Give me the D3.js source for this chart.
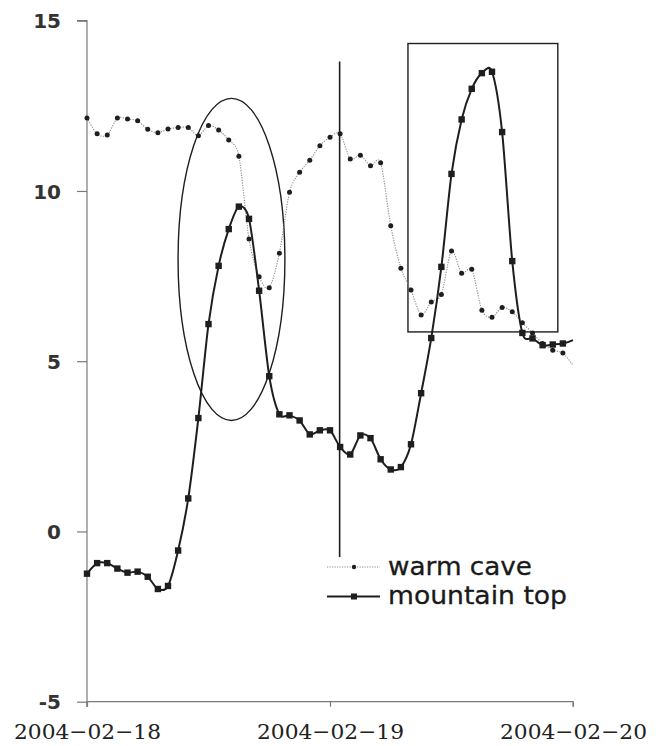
<!DOCTYPE html>
<html>
<head>
<meta charset="utf-8">
<script src="https://cdn.jsdelivr.net/npm/d3@7"></script>
<style>
  html, body { margin: 0; padding: 0; background: #fff; }
  svg { display: block; }
</style>
</head>
<body>
<svg id="chart" width="662" height="746"></svg>
<script>
// ---- data ----
const seriesNames = ["warm cave", "mountain top"];
const startTime = "2004-02-18T00:00:00";
const xTickLabels = ["2004−02−18", "2004−02−19", "2004−02−20"];
const yTickValues = [-5, 0, 5, 10, 15];

const warmCave = [12.14, 11.68, 11.64, 12.14, 12.11, 12.06, 11.81, 11.71, 11.82, 11.86,
  11.86, 11.62, 11.92, 11.79, 11.50, 11.02, 8.59, 7.48, 7.16, 8.17,
  9.96, 10.55, 10.90, 11.33, 11.58, 11.68, 10.94, 11.05, 10.74, 10.83,
  8.98, 7.73, 7.09, 6.36, 6.74, 6.96, 8.24, 7.58, 7.70, 6.50,
  6.29, 6.58, 6.45, 6.13, 5.83, 5.52, 5.32, 5.24, 4.88];

const mountainTop = [-1.24, -0.93, -0.93, -1.09, -1.21, -1.18, -1.33, -1.69, -1.60, -0.56,
  0.97, 3.33, 6.09, 7.80, 8.88, 9.54, 9.18, 7.07, 4.56, 3.44,
  3.41, 3.26, 2.85, 2.97, 2.97, 2.48, 2.26, 2.82, 2.74, 2.12,
  1.82, 1.89, 2.56, 4.06, 5.68, 7.77, 10.50, 12.10, 13.00, 13.46,
  13.50, 11.73, 7.94, 5.83, 5.67, 5.47, 5.49, 5.52, 5.62];

// annotations (hours from start, values)
const vLine = { hour: 25, y0: 13.8, y1: -0.75 };
const box = { h0: 31.7, h1: 46.5, v0: 14.33, v1: 5.86 };
const ellipse = { hour: 14.27, value: 7.99, h0: 9.0, h1: 19.55, v0: 12.72, v1: 3.26 };

// ---- chart ----
const svg = d3.select("#chart");
const t0 = new Date(startTime);
const hourDate = h => new Date(t0.getTime() + h * 3600 * 1000);

const x = d3.scaleTime()
  .domain([new Date("2004-02-18T00:00:00"), new Date("2004-02-20T00:00:00")])
  .range([87, 573]);
const y = d3.scaleLinear().domain([-5, 15]).range([701.7, 20.7]);

const axisColor = "#7a7a7a";
const ink = "#1e1e1e";

// y axis
const yAxis = d3.axisLeft(y).tickValues(yTickValues).tickSize(10).tickPadding(16)
  .tickFormat(d => d);
const gy = svg.append("g").attr("transform", "translate(87,0)").call(yAxis);
gy.select(".domain").attr("d", `M-10,${y(15)}H0V706.7`).attr("stroke", axisColor).attr("stroke-width", 1.2);
gy.selectAll(".tick line").attr("stroke", axisColor).attr("stroke-width", 1.2);
gy.selectAll(".tick text")
  .attr("font-family", "'DejaVu Sans', sans-serif")
  .attr("font-size", 20).attr("font-weight", "bold")
  .attr("fill", "#333").attr("dy", "0.36em").attr("x", -26);

// x axis
const xTickDates = [0, 24, 48].map(hourDate);
const xAxis = d3.axisBottom(x).tickValues(xTickDates).tickSize(5).tickPadding(17)
  .tickFormat((d, i) => xTickLabels[i]);
const gx = svg.append("g").attr("transform", `translate(0,${y(-5)})`).call(xAxis);
gx.select(".domain").attr("d", `M87,5V0H573V5`).attr("stroke", axisColor).attr("stroke-width", 1.2);
gx.selectAll(".tick line").attr("stroke", axisColor).attr("stroke-width", 1.2);
gx.selectAll(".tick text")
  .attr("font-family", "'DejaVu Serif', serif")
  .attr("font-size", 21).attr("fill", "#222")
  .attr("textLength", 147).attr("lengthAdjust", "spacingAndGlyphs");

// data
const caveData = warmCave.map((v, i) => ({ t: hourDate(i), v }));
const mtData = mountainTop.map((v, i) => ({ t: hourDate(i), v }));

const line = d3.line().x(d => x(d.t)).y(d => y(d.v)).curve(d3.curveCardinal.tension(0.15));

// annotations
svg.append("ellipse")
  .attr("cx", x(hourDate(ellipse.hour))).attr("cy", y(ellipse.value))
  .attr("rx", (x(hourDate(ellipse.h1)) - x(hourDate(ellipse.h0))) / 2)
  .attr("ry", (y(ellipse.v1) - y(ellipse.v0)) / 2)
  .attr("fill", "none").attr("stroke", ink).attr("stroke-width", 1.4);

svg.append("rect")
  .attr("x", x(hourDate(box.h0))).attr("y", y(box.v0))
  .attr("width", x(hourDate(box.h1)) - x(hourDate(box.h0)))
  .attr("height", y(box.v1) - y(box.v0))
  .attr("fill", "none").attr("stroke", ink).attr("stroke-width", 1.4);

svg.append("line")
  .attr("x1", x(hourDate(vLine.hour)) - 0.5).attr("x2", x(hourDate(vLine.hour)) - 0.5)
  .attr("y1", y(vLine.y0)).attr("y2", y(vLine.y1))
  .attr("stroke", ink).attr("stroke-width", 1.6);

// warm cave series
svg.append("path").datum(caveData).attr("d", line)
  .attr("fill", "none").attr("stroke", "#8a8a8a").attr("stroke-width", 1.1)
  .attr("stroke-dasharray", "1.2,1.3");
svg.append("g").selectAll("circle").data(caveData.slice(0, -1)).join("circle")
  .attr("cx", d => x(d.t)).attr("cy", d => y(d.v)).attr("r", 2.5)
  .attr("fill", ink);

// mountain top series
svg.append("path").datum(mtData).attr("d", line)
  .attr("fill", "none").attr("stroke", ink).attr("stroke-width", 2);
svg.append("g").selectAll("rect").data(mtData.slice(0, -1)).join("rect")
  .attr("x", d => x(d.t) - 3.2).attr("y", d => y(d.v) - 3.2)
  .attr("width", 6.4).attr("height", 6.4).attr("fill", ink);

// legend
const legend = svg.append("g");
const legItems = [
  { name: seriesNames[0], y: 567, dash: "1.2,1.3", color: "#8a8a8a", w: 1.1, marker: "circle", tl: 144 },
  { name: seriesNames[1], y: 596.5, dash: null, color: ink, w: 2, marker: "rect", tl: 179 }
];
legItems.forEach(it => {
  legend.append("line").attr("x1", 327).attr("x2", 380).attr("y1", it.y).attr("y2", it.y)
    .attr("stroke", it.color).attr("stroke-width", it.w)
    .attr("stroke-dasharray", it.dash);
  if (it.marker === "circle") {
    legend.append("circle").attr("cx", 354).attr("cy", it.y).attr("r", 2.2).attr("fill", ink);
  } else {
    legend.append("rect").attr("x", 351).attr("y", it.y - 3).attr("width", 6).attr("height", 6).attr("fill", ink);
  }
  legend.append("text").attr("x", 388).attr("y", it.y).attr("dy", "0.33em")
    .attr("font-family", "'DejaVu Sans', sans-serif").attr("font-size", 24)
    .attr("fill", "#1a1a1a").attr("stroke", "#1a1a1a").attr("stroke-width", 0.3)
    .attr("textLength", it.tl).attr("lengthAdjust", "spacingAndGlyphs")
    .text(it.name);
});
</script>
</body>
</html>
